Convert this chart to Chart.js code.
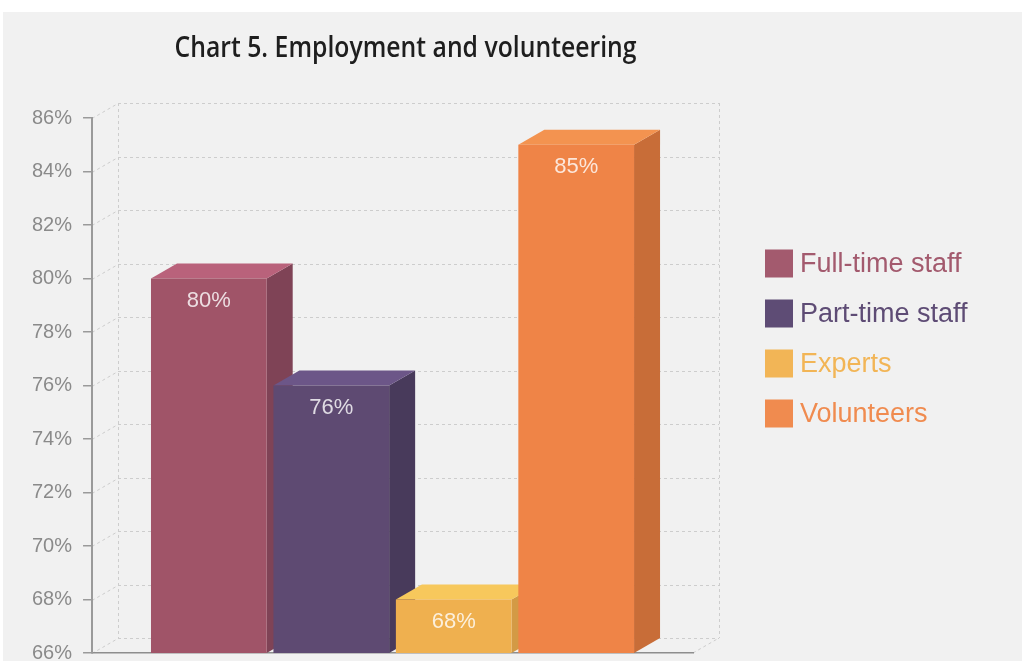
<!DOCTYPE html>
<html>
<head>
<meta charset="utf-8">
<title>Chart 5. Employment and volunteering</title>
<script src="https://cdn.jsdelivr.net/npm/chart.js@4.4.1/dist/chart.umd.min.js"></script>
<style>
  html, body { margin: 0; padding: 0; background: #fff; overflow: hidden; }
  #wrap { position: relative; width: 1022px; height: 676px; }
</style>
</head>
<body>
<div id="wrap"><canvas id="employmentChart"></canvas></div>
<script>
// data
const categories = ['Staff'];
const seriesNames = ['Full-time staff', 'Part-time staff', 'Experts', 'Volunteers'];
const seriesValues = [80, 76, 68, 85];
const yTickValues = [66, 68, 70, 72, 74, 76, 78, 80, 82, 84, 86];
const yTickLabels = ['66%', '68%', '70%', '72%', '74%', '76%', '78%', '80%', '82%', '84%', '86%'];

// face colours for the 3D columns
const frontColors = ['#a05468', '#5e4a72', '#efb04f', '#ef8447'];
const topColors = ['#b9627b', '#6c5688', '#f7c85c', '#f39350'];
const sideColors = ['#7f4356', '#483a5b', '#d39a45', '#c86d38'];
const legendColors = ['#a35a6e', '#5e4c75', '#f2b556', '#f08b4f'];

const DEPTH_X = 26;
const DEPTH_Y = 15;
const FONT = '"Liberation Sans", Arial, sans-serif';

// grey panel + dashed back wall
const wallPlugin = {
    id: 'wall',
    beforeDraw(chart) {
        const { ctx, chartArea: a, scales: { y } } = chart;
        ctx.save();
        ctx.fillStyle = '#fff';
        ctx.fillRect(0, 0, chart.width, chart.height);
        ctx.fillStyle = '#f1f1f1';
        ctx.fillRect(3, 12, chart.width, chart.height);

        ctx.strokeStyle = '#cdcdcd';
        ctx.lineWidth = 1;
        ctx.setLineDash([3, 3]);
        const top = y.getPixelForValue(yTickValues[yTickValues.length - 1]);
        const bottom = y.getPixelForValue(yTickValues[0]);
        ctx.beginPath();
        yTickValues.forEach(v => {
            const py = Math.round(y.getPixelForValue(v)) + 0.5;
            ctx.moveTo(a.left + DEPTH_X, py - DEPTH_Y);
            ctx.lineTo(a.right + DEPTH_X, py - DEPTH_Y);
            ctx.moveTo(a.left, py);
            ctx.lineTo(a.left + DEPTH_X, py - DEPTH_Y);
        });
        ctx.moveTo(a.left + DEPTH_X + 0.5, top - DEPTH_Y);
        ctx.lineTo(a.left + DEPTH_X + 0.5, bottom - DEPTH_Y);
        ctx.moveTo(a.right + DEPTH_X + 0.5, top - DEPTH_Y);
        ctx.lineTo(a.right + DEPTH_X + 0.5, bottom - DEPTH_Y);
        ctx.moveTo(a.right, bottom);
        ctx.lineTo(a.right + DEPTH_X, bottom - DEPTH_Y);
        ctx.stroke();
        ctx.restore();
    }
};

// top and side faces, drawn behind the front faces
const columnPlugin = {
    id: 'columns3d',
    beforeDatasetsDraw(chart) {
        const { ctx, scales: { y } } = chart;
        const base = y.getPixelForValue(y.min);
        ctx.save();
        chart.data.datasets.forEach((ds, i) => {
            chart.getDatasetMeta(i).data.forEach(bar => {
                const l = bar.x - bar.width / 2;
                const r = bar.x + bar.width / 2;
                ctx.fillStyle = sideColors[i];
                ctx.beginPath();
                ctx.moveTo(r, bar.y);
                ctx.lineTo(r + DEPTH_X, bar.y - DEPTH_Y);
                ctx.lineTo(r + DEPTH_X, base - DEPTH_Y);
                ctx.lineTo(r, base);
                ctx.closePath();
                ctx.fill();
                ctx.fillStyle = topColors[i];
                ctx.beginPath();
                ctx.moveTo(l, bar.y);
                ctx.lineTo(l + DEPTH_X, bar.y - DEPTH_Y);
                ctx.lineTo(r + DEPTH_X, bar.y - DEPTH_Y);
                ctx.lineTo(r, bar.y);
                ctx.closePath();
                ctx.fill();
            });
        });
        ctx.restore();
    },
    afterDatasetsDraw(chart) {
        const { ctx } = chart;
        ctx.save();
        ctx.font = '22px ' + FONT;
        ctx.fillStyle = 'rgba(255,255,255,0.8)';
        ctx.textAlign = 'center';
        ctx.textBaseline = 'middle';
        chart.data.datasets.forEach((ds, i) => {
            chart.getDatasetMeta(i).data.forEach((bar, j) => {
                ctx.fillText(ds.data[j] + '%', bar.x, bar.y + 22);
            });
        });
        ctx.restore();
    }
};

// title and legend
const titleLegendPlugin = {
    id: 'titleLegend',
    afterDraw(chart) {
        const { ctx, chartArea: a } = chart;
        ctx.save();
        const title = 'Chart 5. Employment and volunteering';
        ctx.font = '600 29px "Open Sans", sans-serif';
        ctx.fillStyle = '#1e1e1e';
        ctx.textAlign = 'center';
        ctx.textBaseline = 'alphabetic';
        const w = ctx.measureText(title).width;
        ctx.translate((a.left + a.right + DEPTH_X) / 2, 57);
        ctx.scale(462 / w, 1);
        ctx.fillText(title, 0, 0);
        ctx.restore();

        ctx.save();
        ctx.font = '27px ' + FONT;
        ctx.textBaseline = 'middle';
        chart.data.datasets.forEach((ds, i) => {
            const cy = 263.5 + i * 50;
            ctx.fillStyle = legendColors[i];
            ctx.fillRect(765, cy - 14, 28, 28);
            ctx.fillText(ds.label, 800, cy + 1);
        });
        ctx.restore();
    }
};

const ctx = document.getElementById('employmentChart').getContext('2d');
new Chart(ctx, {
    type: 'bar',
    data: {
        labels: categories,
        datasets: seriesNames.map((name, i) => ({
            label: name,
            data: [seriesValues[i]],
            backgroundColor: frontColors[i],
            borderWidth: 0
        }))
    },
    options: {
        responsive: true,
        maintainAspectRatio: false,
        animation: false,
        categoryPercentage: 0.815,
        barPercentage: 0.945,
        layout: {
            padding: { top: 118, left: 21, right: 329, bottom: 0 }
        },
        plugins: {
            legend: { display: false },
            title: { display: false },
            tooltip: { enabled: false }
        },
        scales: {
            x: {
                ticks: { display: false },
                grid: { display: false, drawTicks: false },
                border: { display: true, color: '#8e8e8e', width: 1.5 }
            },
            y: {
                min: 66,
                max: 86,
                afterBuildTicks: axis => {
                    axis.ticks = yTickValues.map(v => ({ value: v }));
                },
                ticks: {
                    callback: (v) => yTickLabels[yTickValues.indexOf(v)],
                    color: '#8a8a8a',
                    padding: 11,
                    font: { size: 20, family: FONT }
                },
                grid: {
                    drawOnChartArea: false,
                    drawTicks: true,
                    tickLength: 9,
                    color: '#9a9a9a',
                    lineWidth: 1.5
                },
                border: { display: true, color: '#9a9a9a', width: 2 }
            }
        }
    },
    plugins: [wallPlugin, columnPlugin, titleLegendPlugin]
});
</script>
</body>
</html>
